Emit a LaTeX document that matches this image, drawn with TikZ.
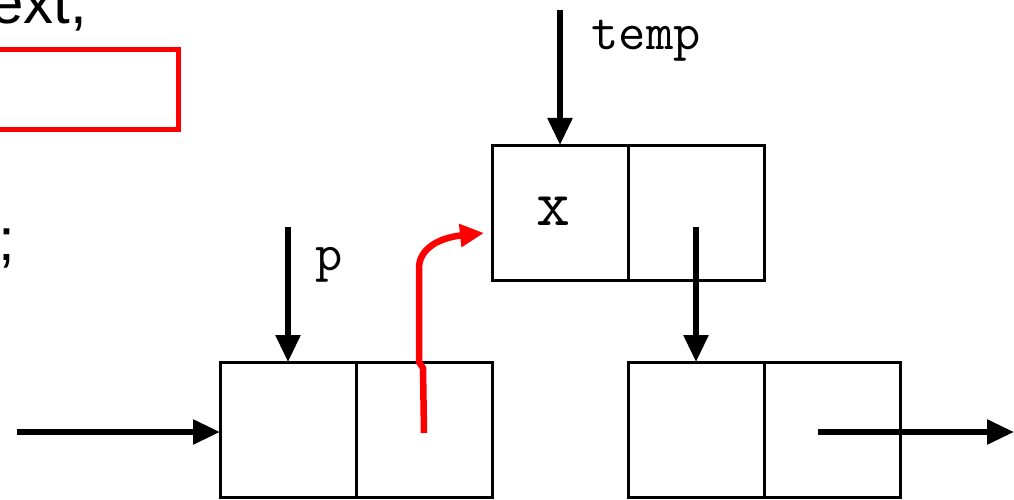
\documentclass[tikz,border=0pt]{standalone}
\usepackage{fontspec}
\setmainfont{Liberation Sans}
\usetikzlibrary{arrows.meta}
\begin{document}
\begin{tikzpicture}[x=1pt,y=-1pt,
 cell/.style={draw,line width=3pt,minimum width=136pt,minimum height=135pt,inner sep=0pt,outer sep=0pt},
 ptr/.style={line width=5.5pt,-{Triangle[length=27pt,width=24pt]}},
 redptr/.style={draw=red,line width=6.5pt,line join=round,-{Triangle[length=24pt,width=22pt]}},
 code/.style={font=\ttfamily\fontsize{53}{60}\selectfont,inner sep=0pt},
 bigcode/.style={font=\ttfamily\fontsize{66}{70}\selectfont,inner sep=0pt},
 prose/.style={font=\fontsize{60}{64}\selectfont,inner sep=0pt}]
\useasboundingbox (0,0) rectangle (1014,500);
\clip (0,0) rectangle (1014,500);
% fragment of text and red box at upper left
\node[prose,anchor=base west] (frag) at (-10,24) {ext,};
\node[draw=red,line width=5pt,inner sep=0pt,minimum width=328.5pt,minimum height=80pt] (redbox) at (14.25,90) {};
\node[prose,anchor=base west] (semi) at (-2,260) {;};
% list cells
\node[cell] (tx) at (560,212.5) {};
\node[cell] (tn) at (696,212.5) {};
\node[cell] (la) at (288,429.5) {};
\node[cell] (lb) at (424,429.5) {};
\node[cell] (ra) at (696,429.5) {};
\node[cell] (rb) at (832,429.5) {};
\node[bigcode,anchor=base] (xl) at (553,225) {x};
\node[code,anchor=base] (templabel) at (646,50) {temp};
\node[code,anchor=base] (plabel) at (329,270) {p};
% pointers
\coordinate (tempsrc) at (560,10);
\draw[ptr] (tempsrc) -- (tx.north);
\coordinate (psrc) at (288,227);
\draw[ptr] (psrc) -- (la.north);
\coordinate (nsrc) at (696,227);
\draw[ptr] (nsrc) -- (ra.north);
\coordinate (insrc) at (17,432);
\draw[ptr] (insrc) -- (la.west |- insrc);
\coordinate (rbsrc) at (818,432);
\coordinate (outend) at (1014,432);
\draw[ptr] (rbsrc) -- (outend);
% red hand-drawn link
\coordinate (redstart) at (424,433);
\coordinate (redend) at (484,233);
\draw[redptr] (redstart) -- (423,368) -- (419,362) -- (419,268) .. controls (419,250) and (437,238) .. (redend);
\end{tikzpicture}
\end{document}
